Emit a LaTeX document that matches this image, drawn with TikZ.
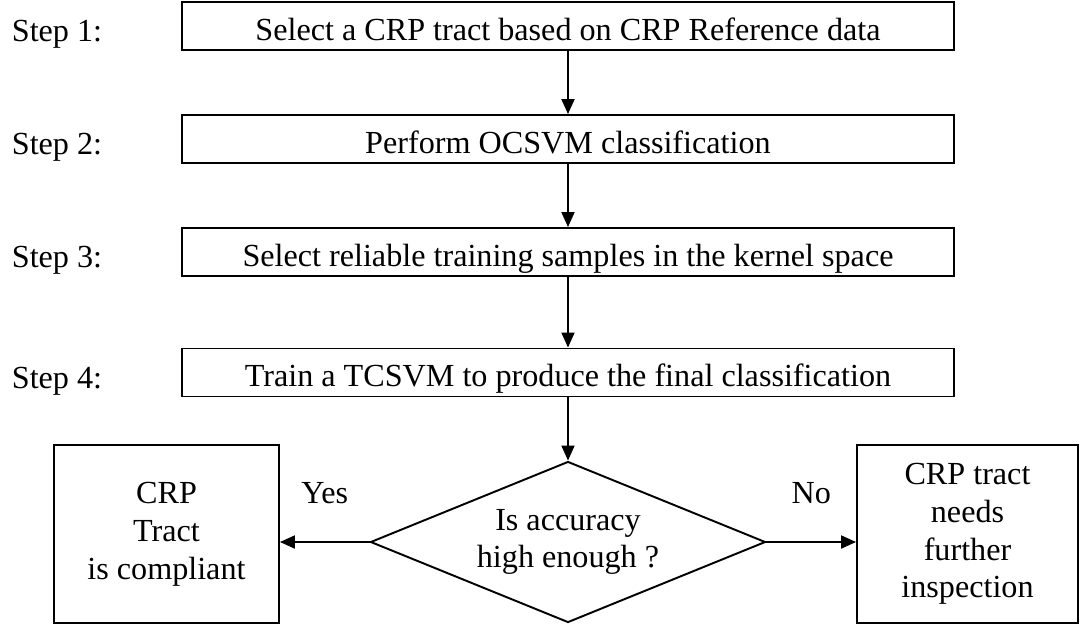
\documentclass[tikz,border=0pt]{standalone}
\usepackage{fontspec}
\setmainfont{Liberation Serif}
\usetikzlibrary{shapes.geometric, arrows.meta}
\tikzstyle{process} = [rectangle, 
minimum width=15.44cm, 
minimum height=0.96cm, 
inner ysep=0pt, 
text height=20pt, 
text depth=4pt, 
text centered, 
draw=black, 
line width=1.1pt]
\tikzstyle{decision} = [diamond, 
aspect=2.45, 
inner sep=0pt, 
minimum width=7.9cm, 
minimum height=3.22cm, 
text centered, 
align=center, 
draw=black, 
line width=1.1pt]
\tikzstyle{outcome} = [rectangle, 
minimum width=4.5cm, 
minimum height=3.56cm, 
text centered, 
align=center, 
draw=black, 
line width=1.1pt]
\tikzstyle{steptext} = [inner sep=0pt, 
yshift=-0.17cm]
\tikzstyle{arrow} = [line width=1.1pt,
->,
>={Triangle[length=0.3cm, width=0.26cm]}]

\begin{document}
\begin{tikzpicture}[node distance=2.26cm, font=\fontsize{18.3}{21.5}\selectfont]
			
			\useasboundingbox (-11.36,0.52) rectangle (10.38,-12.06);
			
			\node (start) [process] {Select a CRP tract based on CRP Reference data};
			
			\node (pro1) [process, below of=start] {Perform OCSVM classification};
			
			\node (pro2) [process, below of=pro1] {Select reliable training samples in the kernel space};
			
			\node (pro3) [process, below of=pro2, yshift=-0.15cm] {Train a TCSVM to produce the final classification};
			
			\node (dec1) [decision, below of=pro3, yshift=-1.13cm] {Is accuracy\\high enough ?};
			
			\node (yes) [outcome, left of=dec1, xshift=-5.77cm, yshift=0.16cm] {CRP\\Tract\\is compliant};
			
			\node (no) [outcome, right of=dec1, xshift=5.73cm, yshift=0.16cm, minimum width=4.42cm] {CRP tract\\needs\\further\\inspection};
			
			\node (lab1) [steptext, left of=start, xshift=-7.96cm] {Step 1:};
			\node (lab2) [steptext, left of=pro1, xshift=-7.96cm] {Step 2:};
			\node (lab3) [steptext, left of=pro2, xshift=-7.96cm] {Step 3:};
			\node (lab4) [steptext, left of=pro3, xshift=-7.96cm] {Step 4:};
			
			\draw [arrow] (start) -- (pro1);
			\draw [arrow] (pro1) -- (pro2);
			\draw [arrow] (pro2) -- (pro3);
			\draw [arrow] (pro3) -- (dec1);
			\draw [arrow] (dec1.west) -- node[yshift=0.98cm] {Yes} (dec1.west -| yes.east);
			\draw [arrow] (dec1.east) -- node[yshift=0.98cm] {No} (dec1.east -| no.west);
			
			\end{tikzpicture}
\end{document}
